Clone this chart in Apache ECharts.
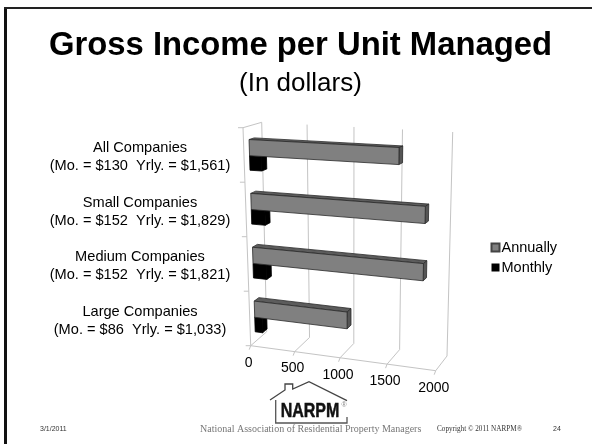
<!DOCTYPE html>
<html><head><meta charset="utf-8">
<style>html,body{margin:0;padding:0;background:#fff}#c{width:592px;height:444px}</style>
<script src="https://cdn.jsdelivr.net/npm/echarts@6/dist/echarts.min.js"></script>
</head><body><div id="c"></div>
<script>
const groups = ['All Companies','Small Companies','Medium Companies','Large Companies'];
const monthlyText = ['$130','$152','$152','$86'];
const yearlyText = ['$1,561','$1,829','$1,821','$1,033'];
const annually = [1561,1829,1821,1033];
const monthly = [130,152,152,86];
const xTicks = [0,500,1000,1500,2000];

const categories = groups.map((g,i)=>g+'\n(Mo. = '+monthlyText[i]+'  Yrly. = '+yearlyText[i]+')');
const G = {left:250, top:130, width:190, height:218};
// Corners of the tilted plot box (front plane and back plane)
const FRONT = {tl:[243,127.7], tr:[441,137], bl:[250.7,345.7], br:[435.7,370.7]};
const BACK  = {tl:[261.7,122.3], tr:[452.7,132], bl:[266.7,331.7], br:[447,356]};
const PERSP = 1.07;
function bil(q,s,u){
  const a=[q.tl[0]+(q.tr[0]-q.tl[0])*s, q.tl[1]+(q.tr[1]-q.tl[1])*s];
  const b=[q.bl[0]+(q.br[0]-q.bl[0])*s, q.bl[1]+(q.br[1]-q.bl[1])*s];
  return [a[0]+(b[0]-a[0])*u, a[1]+(b[1]-a[1])*u];
}
// Project a grid pixel plus a depth (0 front .. 1 back) onto the tilted box
function proj(px,py,d){
  const t=(px-G.left)/G.width, u=(py-G.top)/G.height;
  const s=t/(t+PERSP*(1-t));
  const f=bil(FRONT,s,u), b=bil(BACK,s,u);
  return [f[0]+(b[0]-f[0])*d, f[1]+(b[1]-f[1])*d];
}
const D0=0.3, D1=0.58;
function barItem(f0,f1,cols,stroke){
  return function(params,api){
    const v=api.value(0), c=api.value(1);
    const cen=api.coord([0,c]), end=api.coord([v,c]);
    const band=api.size([0,1])[1];
    const top=cen[1]-band/2;
    const y0=top+f0*band, y1=top+f1*band, x0=cen[0], x1=end[0];
    const poly=(pts,fill)=>({type:'polygon',shape:{points:pts},style:{fill:fill,stroke:stroke,lineWidth:0.8}});
    return {type:'group',children:[
      poly([proj(x0,y0,D0),proj(x1,y0,D0),proj(x1,y0,D1),proj(x0,y0,D1)],cols[1]),
      poly([proj(x1,y0,D0),proj(x1,y0,D1),proj(x1,y1,D1),proj(x1,y1,D0)],cols[2]),
      poly([proj(x0,y0,D0),proj(x1,y0,D0),proj(x1,y1,D0),proj(x0,y1,D0)],cols[0])
    ]};
  };
}
function line(a,b){return {type:'line',shape:{x1:a[0],y1:a[1],x2:b[0],y2:b[1]},style:{stroke:'#c4c4c4',lineWidth:1}};}
function wallItem(params,api){
  const v=api.value(0);
  const p=api.coord([v,0]);
  const top=G.top, bot=G.top+G.height, x=p[0];
  const ch=[
    line(proj(x,top,1),proj(x,bot,1)),
    line(proj(x,bot,0),proj(x,bot,1))
  ];
  const f=proj(x,bot,0);
  const step=G.height/categories.length;
  ch.push(line(f,[f[0]-1.5,f[1]+4]));
  if(params.dataIndex===0){
    ch.push(line(proj(x,top,0),proj(x,bot,0)));
    ch.push(line(proj(x,top,0),proj(x,top,1)));
    ch.push(line(proj(x,bot,0),proj(api.coord([xTicks[xTicks.length-1],0])[0],bot,0)));
    for(let i=0;i<=categories.length;i++){
      const q=proj(x,top+i*step,0);
      ch.push(line(q,[q[0]-5,q[1]]));
    }
  }
  ch.push({type:'text',style:{text:String(v),x:f[0]-2,y:f[1]+17,align:'center',verticalAlign:'middle',
    font:'14px "Liberation Sans"',fill:'#000'}});
  return {type:'group',children:ch};
}
const chart=echarts.init(document.getElementById('c'),null,{renderer:'canvas'});
chart.setOption({
  animation:false,
  backgroundColor:'#fff',
  title:[
    {text:'Gross Income per Unit Managed',left:44,top:24,textStyle:{fontFamily:'Liberation Sans',fontWeight:'bold',fontSize:32.8,color:'#000'}},
    {text:'(In dollars)',left:234,top:66,textStyle:{fontFamily:'Liberation Sans',fontWeight:'normal',fontSize:26,color:'#000'}}
  ],
  legend:{data:['Annually','Monthly'],orient:'vertical',left:485.5,top:235,itemWidth:8,itemHeight:8,itemGap:5,icon:'rect',
    textStyle:{fontFamily:'Liberation Sans',fontSize:14.5,color:'#000',padding:[0,0,0,-3]}},
  grid:G,
  xAxis:{type:'value',min:0,max:2000,interval:500,show:false},
  yAxis:{type:'category',inverse:true,data:categories,
    axisLine:{show:false},axisTick:{show:false},splitLine:{show:false},
    axisLabel:{margin:110,align:'center',fontFamily:'Liberation Sans',fontSize:14.6,lineHeight:18,color:'#000'}},
  series:[
    {type:'custom',name:'walls',coordinateSystem:'cartesian2d',silent:true,clip:false,
      renderItem:wallItem,data:xTicks.map(t=>[t,0]),encode:{x:0,y:1},z:1},
    {type:'custom',name:'Monthly',coordinateSystem:'cartesian2d',clip:false,
      itemStyle:{color:'#000',borderWidth:0},
      renderItem:barItem(0.55,0.82,['#000','#000','#000'],'#000'),
      data:monthly.map((v,i)=>[v,i]),encode:{x:0,y:1},z:2},
    {type:'custom',name:'Annually',coordinateSystem:'cartesian2d',clip:false,
      itemStyle:{color:'#808080',borderColor:'#444',borderWidth:0.6},
      renderItem:barItem(0.25,0.55,['#808080','#5c5c5c','#555'],'#2a2a2a'),
      data:annually.map((v,i)=>[v,i]),encode:{x:0,y:1},z:3}
  ],
  graphic:[
    {type:'rect',shape:{x:4,y:7,width:3,height:437},style:{fill:'#111'}},
    {type:'rect',shape:{x:4,y:7,width:588,height:2},style:{fill:'#222'}},
    {type:'polyline',shape:{points:[[270,400],[285,390],[285,384],[292.7,384],[292.7,389],[309,381.7],[347,400.7]]},style:{stroke:'#444',fill:'none',lineWidth:1.3}},
    {type:'polyline',shape:{points:[[275.7,400],[275.7,423],[347,423],[347,417]]},style:{stroke:'#555',fill:'none',lineWidth:1.3}},
    {type:'text',x:310,y:411,scaleY:1.25,style:{text:'NARPM',align:'center',verticalAlign:'middle',font:'bold 16px "Liberation Sans"',fill:'#111',stroke:'#111',lineWidth:0.4}},
    {type:'text',style:{text:'®',x:344,y:405,align:'center',verticalAlign:'middle',font:'7px "Liberation Sans"',fill:'#888'}},
    {type:'text',style:{text:'National Association of Residential Property Managers',x:200,y:429,verticalAlign:'middle',font:'10px "Liberation Serif"',fill:'#777'}},
    {type:'text',style:{text:'3/1/2011',x:40,y:429,verticalAlign:'middle',font:'7px "Liberation Sans"',fill:'#333'}},
    {type:'text',style:{text:'Copyright © 2011 NARPM®',x:437,y:429,verticalAlign:'middle',font:'7.2px "Liberation Serif"',fill:'#333'}},
    {type:'text',style:{text:'24',x:553,y:429,verticalAlign:'middle',font:'7px "Liberation Sans"',fill:'#333'}}
  ]
});
</script></body></html>
